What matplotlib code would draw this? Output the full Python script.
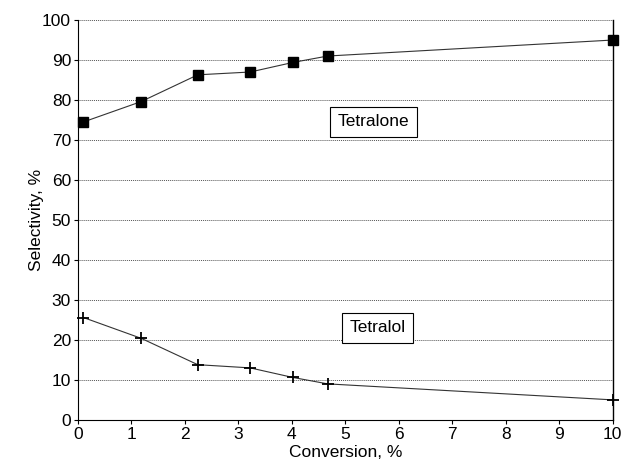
import matplotlib.pyplot as plt

conv = [0.1, 1.18, 2.24, 3.22, 4.02, 4.67, 10.0]
tetralone = [74.5, 79.6, 86.3, 87.0, 89.4, 91.0, 95.0]
tetralol = [25.6, 20.4, 13.8, 13.0, 10.6, 9.0, 5.0]

plt.rcParams['font.family'] = ['Liberation Sans', 'DejaVu Sans']

fig = plt.figure(figsize=(6.24, 4.66), dpi=100)
ax = fig.add_axes([0.125, 0.099, 0.857, 0.858])

ax.plot(conv, tetralone, color='#333333', lw=0.8, marker='s', ms=6.5,
        mfc='black', mec='black', clip_on=False, zorder=3)
ax.plot(conv, tetralol, color='#333333', lw=0.8, marker='+', ms=9,
        mew=1.3, mec='black', clip_on=False, zorder=3)

ax.set_xlim(0, 10)
ax.set_ylim(0, 100)
ax.set_xticks(range(0, 11))
ax.set_yticks(range(0, 101, 10))
ax.yaxis.grid(True, linestyle=(0, (1, 1)), color='#555555', lw=0.7)
ax.spines['top'].set_visible(False)
ax.spines['right'].set_linewidth(1.0)
ax.tick_params(labelsize=12.5, length=3, width=0.8, pad=2)
ax.set_xlabel('Conversion, %', fontsize=12.5, labelpad=2)
ax.set_ylabel('Selectivity, %', fontsize=12.5)
ax.yaxis.set_label_coords(-0.063, 0.5)

box = dict(boxstyle='square,pad=0.45', fc='white', ec='black', lw=0.8)
ax.text(5.53, 74.5, 'Tetralone', fontsize=12.5, ha='center', va='center', bbox=box)
ax.text(5.6, 23.0, 'Tetralol', fontsize=12.5, ha='center', va='center', bbox=box)

fig.savefig('out.png', dpi=100)
